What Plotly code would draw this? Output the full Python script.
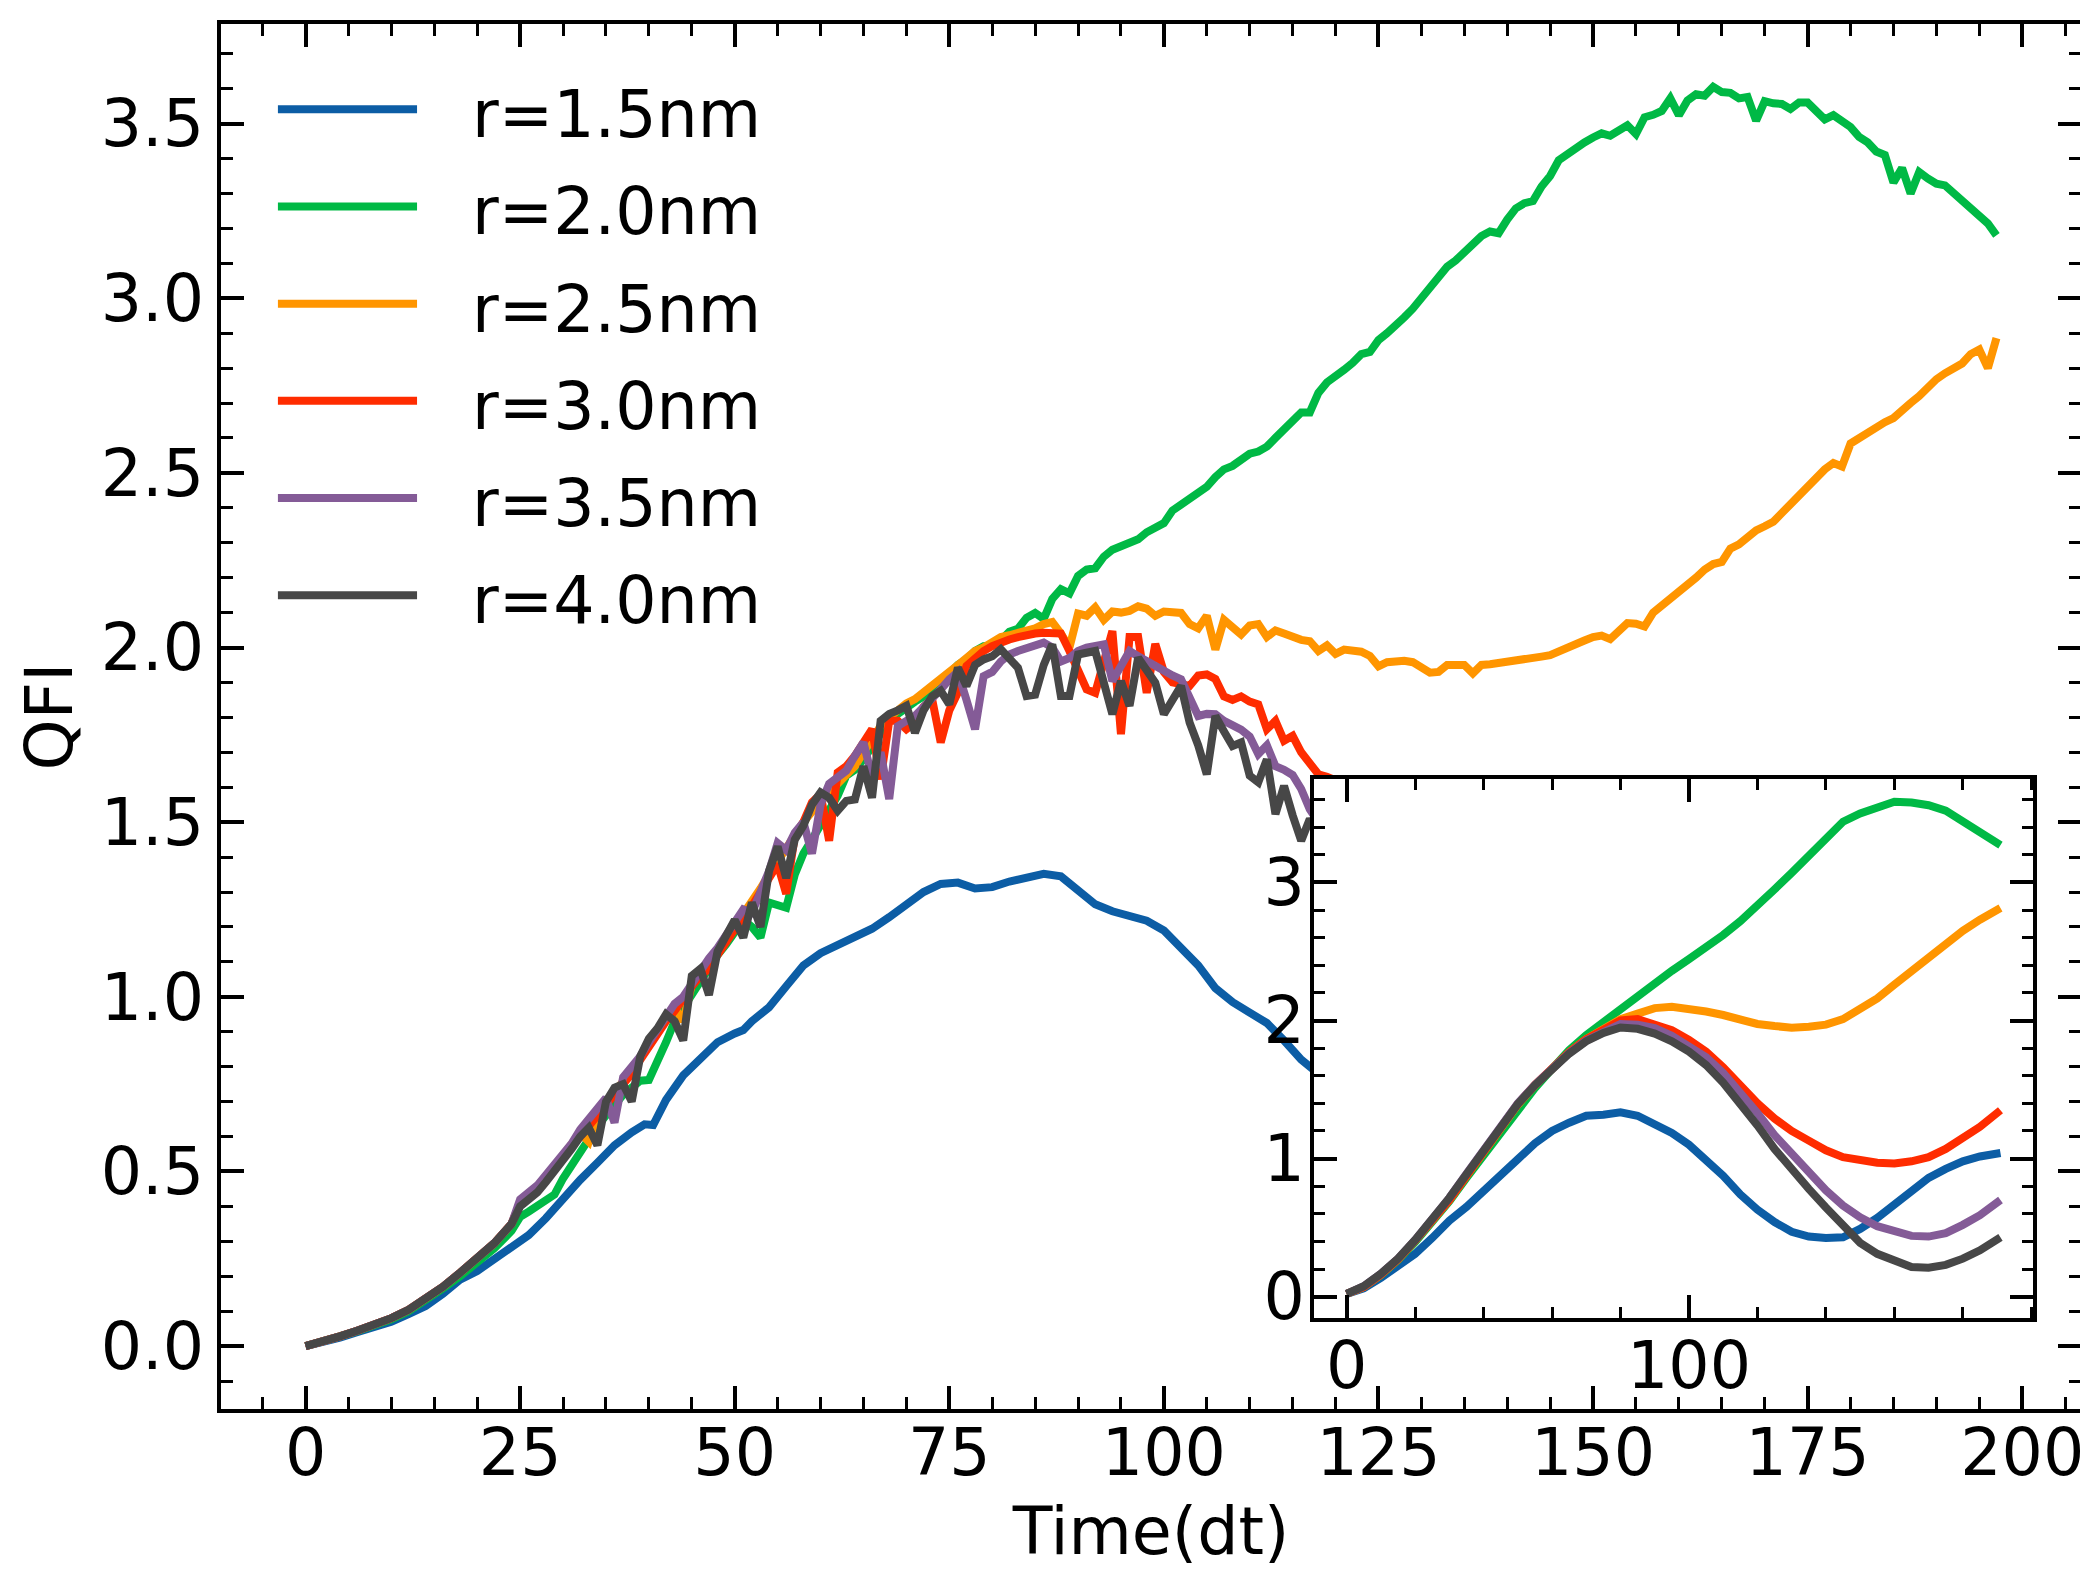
import plotly.graph_objects as go

# ---------------- data ----------------
LABELS = ["r=1.5nm", "r=2.0nm", "r=2.5nm", "r=3.0nm", "r=3.5nm", "r=4.0nm"]
COLORS = ["#0C5DA5", "#00B945", "#FF9500", "#FF2C00", "#845B97", "#474747"]

T_EARLY = [0, 2, 4, 6, 8, 10, 12, 14, 16, 18, 20, 22, 24]
T_HID = [124, 130, 136, 142, 148, 154, 160, 166, 172, 178, 184, 190, 197]

# r=1.5nm
t_r15 = [0, 2, 4, 6, 8, 10, 12, 14, 16, 18, 20, 22, 24, 26, 28, 30, 32, 34, 36, 38,
         39.5, 40.5, 42, 44, 46, 48, 50, 51, 52,
         54, 56, 58, 60, 62, 64, 66, 68, 70, 72, 74, 76, 78, 80, 82, 84, 86, 88, 90,
         92, 94, 96, 98, 100, 102, 104, 106, 108, 110, 112, 114, 116, 118,
         122, 128, 134, 140, 146, 152, 158, 164, 170, 176, 182, 188, 194, 197]
q_r15 = [0.0, 0.01, 0.024, 0.04, 0.055, 0.07, 0.092, 0.115, 0.15, 0.19, 0.215, 0.25, 0.282,
         0.318, 0.366, 0.425, 0.476, 0.525, 0.575, 0.612,
         0.635, 0.633, 0.705, 0.775, 0.825, 0.87, 0.895, 0.905, 0.93,
         0.97, 1.03, 1.09, 1.125, 1.15, 1.17, 1.195, 1.228, 1.262, 1.3, 1.323, 1.327, 1.31,
         1.314, 1.33, 1.343, 1.352, 1.345, 1.303, 1.265, 1.245, 1.232, 1.218, 1.19, 1.14,
         1.09, 1.025, 0.985, 0.955, 0.925, 0.875, 0.82, 0.78,
         0.65, 0.52, 0.44, 0.42, 0.44, 0.52, 0.63, 0.76, 0.86, 0.94, 1.0, 1.03, 1.05, 1.06]

# r=2.0nm
t_r20 = T_EARLY + list(range(25, 198))
q_r20 = [0.0, 0.012, 0.028, 0.043, 0.058, 0.077, 0.1, 0.13, 0.165, 0.2, 0.24, 0.28, 0.33,
         0.37, 0.385, 0.40, 0.42, 0.434, 0.48, 0.52, 0.56, 0.60, 0.63,
         0.66, 0.69, 0.72, 0.74, 0.76, 0.762, 0.81, 0.87, 0.93, 0.97,
         1.01, 1.05, 1.09, 1.12, 1.15, 1.19, 1.22, 1.20, 1.17, 1.27,
         1.26, 1.255, 1.35, 1.41, 1.45, 1.49, 1.53, 1.576, 1.633, 1.65,
         1.68, 1.72, 1.76, 1.79, 1.81, 1.83, 1.845, 1.86, 1.88, 1.90,
         1.925, 1.95, 1.966, 1.99, 2.004, 2.005, 2.02, 2.045, 2.054, 2.085,
         2.099, 2.082, 2.139, 2.167, 2.155, 2.205, 2.223, 2.227, 2.26, 2.28,
         2.29, 2.296, 2.31, 2.33, 2.344, 2.356, 2.392, 2.41, 2.43, 2.445,
         2.46, 2.488, 2.51, 2.52, 2.535, 2.555, 2.561, 2.575, 2.60, 2.625,
         2.655, 2.673, 2.673, 2.729, 2.759, 2.775, 2.795, 2.815, 2.84, 2.846,
         2.88, 2.90, 2.92, 2.945, 2.97, 3.0, 3.035, 3.065, 3.09, 3.108,
         3.133, 3.15, 3.178, 3.191, 3.186, 3.225, 3.257, 3.272, 3.278, 3.32,
         3.35, 3.395, 3.414, 3.43, 3.446, 3.46, 3.472, 3.465, 3.48, 3.495,
         3.47, 3.518, 3.525, 3.536, 3.572, 3.524, 3.566, 3.584, 3.58, 3.605,
         3.59, 3.588, 3.572, 3.576, 3.508, 3.564, 3.558, 3.556, 3.542, 3.56,
         3.56, 3.536, 3.512, 3.524, 3.51, 3.49, 3.462, 3.446, 3.42, 3.41,
         3.331, 3.373, 3.30, 3.361, 3.343, 3.328, 3.323, 3.30, 3.28, 3.26,
         3.231, 3.214, 3.18]

# r=2.5nm
t_r25 = T_EARLY + list(range(25, 198))
q_r25 = [0.0, 0.012, 0.028, 0.044, 0.06, 0.08, 0.104, 0.135, 0.17, 0.21, 0.25, 0.295, 0.35,
         0.41, 0.43, 0.455, 0.485, 0.515, 0.545, 0.575, 0.61, 0.585, 0.665,
         0.695, 0.725, 0.755, 0.79, 0.825, 0.86, 0.895, 0.93, 0.97, 0.93,
         1.035, 1.065, 1.095, 1.13, 1.165, 1.20, 1.235, 1.27, 1.31, 1.35,
         1.39, 1.43, 1.465, 1.50, 1.53, 1.56, 1.585, 1.61, 1.635, 1.66,
         1.70, 1.74, 1.775, 1.80, 1.82, 1.84, 1.852, 1.87, 1.89, 1.909,
         1.93, 1.95, 1.97, 1.99, 2.0, 2.015, 2.03, 2.035, 2.04, 2.049,
         2.055, 2.067, 2.073, 2.04, 2.0, 2.097, 2.091, 2.115, 2.079, 2.103,
         2.10, 2.105, 2.118, 2.111, 2.091, 2.103, 2.10, 2.099, 2.067, 2.055,
         2.091, 1.994, 2.079, 2.055, 2.037, 2.063, 2.067, 2.03, 2.049, 2.04,
         2.03, 2.022, 2.018, 1.99, 2.006, 1.982, 1.994, 1.99, 1.988, 1.976,
         1.946, 1.958, 1.96, 1.962, 1.958, 1.94, 1.928, 1.93, 1.95, 1.95,
         1.95, 1.926, 1.95, 1.952, 1.955, 1.958, 1.96, 1.964, 1.97, 1.974,
         1.978, 1.99, 2.0, 2.01, 2.02, 2.03, 2.034, 2.024, 2.05, 2.07,
         2.068, 2.06, 2.10, 2.12, 2.139, 2.157, 2.175, 2.20, 2.223, 2.239,
         2.245, 2.283, 2.295, 2.315, 2.335, 2.347, 2.36, 2.385, 2.41, 2.44,
         2.464, 2.49, 2.51, 2.528, 2.518, 2.584, 2.60, 2.612, 2.63, 2.645,
         2.657, 2.681, 2.70, 2.72, 2.745, 2.768, 2.785, 2.80, 2.813, 2.84,
         2.853, 2.80, 2.886]

# r=3.0nm
t_r30 = T_EARLY + list(range(25, 121)) + T_HID
q_r30 = [0.0, 0.012, 0.028, 0.044, 0.06, 0.08, 0.104, 0.135, 0.17, 0.21, 0.25, 0.295, 0.35,
         0.41, 0.43, 0.455, 0.48, 0.51, 0.54, 0.57, 0.60, 0.63, 0.66,
         0.69, 0.72, 0.75, 0.78, 0.82, 0.86, 0.89, 0.93, 0.96, 1.0,
         1.03, 1.06, 1.08, 1.12, 1.16, 1.20, 1.23, 1.26, 1.30, 1.34,
         1.38, 1.295, 1.46, 1.50, 1.557, 1.58, 1.447, 1.642, 1.66, 1.69,
         1.73, 1.766, 1.623, 1.79, 1.79, 1.766, 1.785, 1.83, 1.852, 1.728,
         1.82, 1.871, 1.947, 1.97, 1.99, 2.004, 2.015, 2.023, 2.03, 2.037,
         2.04, 2.042, 2.042, 2.04, 1.99, 1.94, 1.88, 1.87, 1.95, 2.047,
         1.752, 2.03, 2.03, 1.87, 2.01, 1.93, 1.90, 1.895, 1.89, 1.92,
         1.923, 1.91, 1.86, 1.85, 1.86, 1.845, 1.837, 1.766, 1.79, 1.733,
         1.747, 1.70, 1.666, 1.637, 1.63, 1.62,
         1.50, 1.30, 1.14, 1.04, 0.99, 0.97, 0.97, 1.0, 1.06, 1.14, 1.23, 1.32, 1.40]

# r=3.5nm
t_r35 = T_EARLY + list(range(25, 119)) + T_HID
q_r35 = [0.0, 0.012, 0.028, 0.044, 0.06, 0.08, 0.104, 0.135, 0.17, 0.21, 0.25, 0.295, 0.35,
         0.42, 0.44, 0.46, 0.49, 0.52, 0.55, 0.58, 0.62, 0.65, 0.68,
         0.71, 0.64, 0.77, 0.80, 0.83, 0.87, 0.91, 0.95, 0.98, 1.0,
         1.04, 1.08, 1.11, 1.14, 1.18, 1.22, 1.25, 1.24, 1.30, 1.36,
         1.44, 1.42, 1.47, 1.50, 1.41, 1.55, 1.61, 1.63, 1.647, 1.69,
         1.728, 1.63, 1.70, 1.566, 1.775, 1.79, 1.804, 1.83, 1.852, 1.88,
         1.909, 1.93, 1.85, 1.766, 1.918, 1.93, 1.96, 1.98, 1.99, 2.0,
         2.005, 2.014, 2.0, 1.96, 1.97, 1.99, 2.0, 2.005, 2.009, 1.904,
         1.95, 1.99, 1.975, 1.96, 1.945, 1.933, 1.92, 1.909, 1.86, 1.804,
         1.81, 1.809, 1.79, 1.78, 1.765, 1.745, 1.695, 1.72, 1.66, 1.65,
         1.635, 1.595, 1.537, 1.50,
         1.33, 1.10, 0.88, 0.70, 0.57, 0.49, 0.45, 0.43, 0.45, 0.50, 0.57, 0.64, 0.72]

# r=4.0nm
t_r40 = T_EARLY + list(range(25, 120)) + T_HID
q_r40 = [0.0, 0.012, 0.028, 0.044, 0.06, 0.08, 0.104, 0.135, 0.17, 0.21, 0.25, 0.295, 0.35,
         0.40, 0.42, 0.44, 0.47, 0.50, 0.535, 0.565, 0.60, 0.625, 0.575,
         0.70, 0.74, 0.75, 0.70, 0.83, 0.88, 0.91, 0.95, 0.93, 0.875,
         1.06, 1.08, 1.005, 1.13, 1.17, 1.22, 1.17, 1.27, 1.20, 1.36,
         1.43, 1.34, 1.45, 1.49, 1.55, 1.585, 1.57, 1.533, 1.561, 1.565,
         1.66, 1.57, 1.79, 1.81, 1.82, 1.833, 1.756, 1.82, 1.86, 1.876,
         1.837, 1.942, 1.89, 1.95, 1.966, 1.975, 1.995, 1.97, 1.942, 1.861,
         1.865, 1.95, 2.009, 1.861, 1.861, 1.98, 1.985, 1.99, 1.90, 1.809,
         1.904, 1.833, 1.971, 1.93, 1.899, 1.809, 1.85, 1.89, 1.785, 1.72,
         1.637, 1.804, 1.76, 1.718, 1.728, 1.633, 1.614, 1.68, 1.523, 1.604,
         1.52, 1.447, 1.509, 1.47, 1.42,
         1.17, 0.92, 0.70, 0.52, 0.38, 0.29, 0.24, 0.21, 0.21, 0.25, 0.31, 0.38, 0.46]

MAIN_T = [t_r15, t_r20, t_r25, t_r30, t_r35, t_r40]
MAIN_Q = [q_r15, q_r20, q_r25, q_r30, q_r35, q_r40]

# inset (smoothed curves)
t_in = [0, 5, 10, 15, 20, 25, 30, 35, 40, 45, 50, 55, 60, 65, 70, 75, 80, 85, 90, 95,
        100, 105, 110, 115, 120, 125, 130, 135, 140, 145, 150, 155, 160, 165, 170, 175,
        180, 185, 191]
qi_r15 = [0.02, 0.06, 0.135, 0.215, 0.31, 0.425, 0.55, 0.65, 0.76, 0.88, 0.995, 1.11, 1.2,
          1.26, 1.31, 1.318, 1.335, 1.31, 1.25, 1.185, 1.10, 0.985, 0.875, 0.74, 0.63, 0.54,
          0.47, 0.435, 0.424, 0.43, 0.49, 0.57, 0.67, 0.77, 0.86, 0.925, 0.98, 1.015, 1.04]
qi_r20 = [0.02, 0.07, 0.155, 0.265, 0.395, 0.54, 0.69, 0.86, 1.02, 1.19, 1.36, 1.51, 1.65,
          1.785, 1.895, 1.99, 2.07, 2.165, 2.27, 2.36, 2.445, 2.53, 2.62, 2.72, 2.83, 2.95,
          3.07, 3.2, 3.32, 3.44, 3.5, 3.545, 3.585, 3.58, 3.56, 3.52, 3.44, 3.35, 3.27]
qi_r25 = [0.02, 0.07, 0.16, 0.27, 0.405, 0.55, 0.70, 0.875, 1.04, 1.22, 1.39, 1.53, 1.655,
          1.77, 1.865, 1.94, 2.01, 2.05, 2.09, 2.10, 2.085, 2.065, 2.04, 2.0, 1.975, 1.96,
          1.948, 1.955, 1.97, 2.01, 2.08, 2.16, 2.26, 2.36, 2.46, 2.555, 2.65, 2.73, 2.815]
qi_r30 = [0.02, 0.07, 0.16, 0.27, 0.405, 0.55, 0.70, 0.875, 1.045, 1.225, 1.395, 1.535, 1.66,
          1.77, 1.865, 1.935, 2.0, 2.01, 1.975, 1.93, 1.86, 1.774, 1.66, 1.525, 1.40, 1.29,
          1.20, 1.13, 1.06, 1.01, 0.985, 0.97, 0.965, 0.98, 1.01, 1.07, 1.15, 1.23, 1.35]
qi_r35 = [0.02, 0.075, 0.165, 0.275, 0.41, 0.56, 0.715, 0.89, 1.06, 1.235, 1.40, 1.535, 1.66,
          1.765, 1.855, 1.92, 1.975, 1.97, 1.945, 1.89, 1.82, 1.735, 1.62, 1.48, 1.33, 1.17,
          1.03, 0.89, 0.77, 0.66, 0.575, 0.51, 0.47, 0.44, 0.435, 0.46, 0.52, 0.59, 0.70]
qi_r40 = [0.02, 0.075, 0.165, 0.275, 0.41, 0.56, 0.715, 0.885, 1.055, 1.23, 1.395, 1.53, 1.655,
          1.76, 1.85, 1.91, 1.95, 1.94, 1.905, 1.85, 1.775, 1.678, 1.55, 1.40, 1.24, 1.07,
          0.92, 0.78, 0.645, 0.515, 0.39, 0.31, 0.255, 0.215, 0.21, 0.23, 0.275, 0.335, 0.43]
INSET_Q = [qi_r15, qi_r20, qi_r25, qi_r30, qi_r35, qi_r40]

MAIN_XTICKS = [0, 25, 50, 75, 100, 125, 150, 175, 200]
MAIN_YTICKS = [0.0, 0.5, 1.0, 1.5, 2.0, 2.5, 3.0, 3.5]
INSET_XTICKS = [0, 100]
INSET_YTICKS = [0, 1, 2, 3]

# ---------------- styling ----------------
W, H = 2088, 1575
ML, MR, MT, MB = 213, 15, 16, 174
FONT = "DejaVu Sans"
FS = 65
LW = 8

fig = go.Figure()
for t, q, lab, col in zip(MAIN_T, MAIN_Q, LABELS, COLORS):
    fig.add_trace(go.Scatter(x=t, y=q, mode="lines", name=lab, showlegend=False,
                             line=dict(color=col, width=LW), xaxis="x", yaxis="y"))
for q, lab, col in zip(INSET_Q, LABELS, COLORS):
    fig.add_trace(go.Scatter(x=t_in, y=q, mode="lines", name=lab, showlegend=False,
                             line=dict(color=col, width=LW), xaxis="x2", yaxis="y2"))

axis_common = dict(showline=True, linecolor="black", linewidth=4, mirror="allticks",
                   ticks="inside", ticklen=23, tickwidth=3.5, tickcolor="black",
                   showgrid=False, zeroline=False,
                   tickfont=dict(family=FONT, size=FS, color="black"))

fig.update_layout(
    width=W, height=H,
    margin=dict(l=ML, r=MR, t=MT, b=MB),
    paper_bgcolor="white", plot_bgcolor="white",
    font=dict(family=FONT, size=FS, color="black"),
    xaxis=dict(range=[-9.85, 206.85], domain=[0, 1], anchor="y",
               tickvals=MAIN_XTICKS, ticktext=[str(v) for v in MAIN_XTICKS],
               ticklabelstandoff=-16,
               minor=dict(dtick=5, tick0=0, ticks="inside", ticklen=12, tickwidth=3,
                          tickcolor="black", showgrid=False),
               title=dict(text="Time(dt)", font=dict(family=FONT, size=FS), standoff=20),
               **axis_common),
    yaxis=dict(range=[-0.18, 3.785], domain=[0, 1], anchor="x",
               tickvals=MAIN_YTICKS, ticktext=[f"{v:.1f}" for v in MAIN_YTICKS],
               minor=dict(dtick=0.1, tick0=0, ticks="inside", ticklen=12, tickwidth=3,
                          tickcolor="black", showgrid=False),
               title=dict(text="QFI", font=dict(family=FONT, size=FS), standoff=8),
               **axis_common),
    xaxis2=dict(range=[-9.55, 200.5], domain=[0.5876, 0.9742], anchor="y2",
                tickvals=INSET_XTICKS, ticktext=[str(v) for v in INSET_XTICKS],
                ticklabelstandoff=-12,
                minor=dict(dtick=20, tick0=0, ticks="inside", ticklen=11, tickwidth=3,
                           tickcolor="black", showgrid=False),
                **axis_common),
    yaxis2=dict(range=[-0.155, 3.75], domain=[0.0657, 0.4549], anchor="x2",
                tickvals=INSET_YTICKS, ticktext=[str(v) for v in INSET_YTICKS],
                ticklabelstandoff=-8,
                minor=dict(dtick=0.2, tick0=0, ticks="inside", ticklen=11, tickwidth=3,
                           tickcolor="black", showgrid=False),
                **axis_common),
)

# legend drawn as line samples + labels (upper left)
LEG_X0, LEG_X1, LEG_TX = 0.0306, 0.1054, 0.1339
LEG_Y0, LEG_DY = 0.9385, 0.0702
for i, (lab, col) in enumerate(zip(LABELS, COLORS)):
    yy = LEG_Y0 - i * LEG_DY
    fig.add_shape(type="line", xref="paper", yref="paper", x0=LEG_X0, x1=LEG_X1,
                  y0=yy, y1=yy, line=dict(color=col, width=LW))
    fig.add_annotation(xref="paper", yref="paper", x=LEG_TX, y=yy - 0.004, text=lab,
                       showarrow=False, xanchor="left", yanchor="middle",
                       font=dict(family=FONT, size=FS, color="black"))

fig.write_html("out.html")
